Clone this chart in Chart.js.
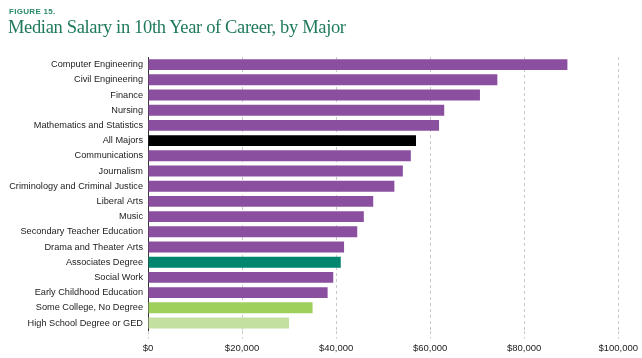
<!DOCTYPE html>
<html lang="en">
<head>
  <meta charset="UTF-8">
  <title>Median Salary in 10th Year of Career, by Major</title>
  <script src="https://cdn.jsdelivr.net/npm/chart.js"></script>
  <style>
    html, body { margin: 0; padding: 0; background: #fff; }
    #wrap { position: relative; width: 642px; height: 358px; overflow: hidden; }
    #fig { position: absolute; left: 9px; top: 7px; font: bold 8px "Liberation Sans", Arial, sans-serif; color: #2b8a68; letter-spacing: 0.3px; }
    #title { position: absolute; left: 8px; top: 17px; font: 18.5px "Liberation Serif", "DejaVu Serif", serif; color: #1f7a5a; white-space: nowrap; letter-spacing: -0.35px; }
    canvas { position: absolute; left: 0; top: 0; }
  </style>
</head>
<body>
  <div id="wrap">
    <canvas id="salary-chart" width="642" height="358"></canvas>
    <div id="fig">FIGURE 15.</div>
    <div id="title">Median Salary in 10th Year of Career, by Major</div>
  </div>

  <script>
    // Dados
    const majors = [
      'Computer Engineering', 'Civil Engineering', 'Finance', 'Nursing',
      'Mathematics and Statistics', 'All Majors', 'Communications', 'Journalism',
      'Criminology and Criminal Justice', 'Liberal Arts', 'Music',
      'Secondary Teacher Education', 'Drama and Theater Arts', 'Associates Degree',
      'Social Work', 'Early Childhood Education', 'Some College, No Degree',
      'High School Degree or GED'
    ];
    const salaries = [
      89200, 74300, 70600, 63000, 61900, 57000, 55900, 54200,
      52400, 47900, 45900, 44500, 41700, 41000, 39400, 38200,
      35000, 30000
    ];
    const barColors = [
      '#8a4f9f', '#8a4f9f', '#8a4f9f', '#8a4f9f', '#8a4f9f', '#000000',
      '#8a4f9f', '#8a4f9f', '#8a4f9f', '#8a4f9f', '#8a4f9f', '#8a4f9f',
      '#8a4f9f', '#00866f', '#8a4f9f', '#8a4f9f', '#9fd05c', '#c3e0a1'
    ];
    const xTicks = [0, 20000, 40000, 60000, 80000, 100000];

    new Chart(document.getElementById('salary-chart'), {
      type: 'bar',
      data: {
        labels: majors,
        datasets: [{ data: salaries, backgroundColor: barColors, barPercentage: 0.72, categoryPercentage: 1 }]
      },
      options: {
        indexAxis: 'y',
        responsive: false,
        animation: false,
        layout: { padding: { top: 57, right: 23, bottom: 0, left: 0 } },
        plugins: { legend: { display: false }, tooltip: { enabled: false } },
        scales: {
          x: {
            min: xTicks[0],
            max: xTicks[xTicks.length - 1],
            afterBuildTicks: (scale) => { scale.ticks = xTicks.map(v => ({ value: v })); },
            ticks: {
              padding: 4,
              color: '#222',
              font: { family: '"Liberation Sans", Arial, sans-serif', size: 9.5 },
              callback: (v) => '$' + Number(v).toLocaleString('en-US')
            },
            grid: { color: '#c8c8c8', tickBorderDash: [3, 3], tickLength: 8, tickColor: '#c8c8c8' },
            border: { display: false, dash: [3, 3] }
          },
          y: {
            afterFit: (scale) => { scale.width = 148; },
            ticks: {
              padding: 5,
              color: '#222',
              font: { family: '"Liberation Sans", Arial, sans-serif', size: 9.2 }
            },
            grid: { display: false, drawTicks: false },
            border: { display: true, color: '#333', width: 1 }
          }
        }
      }
    });
  </script>
</body>
</html>
